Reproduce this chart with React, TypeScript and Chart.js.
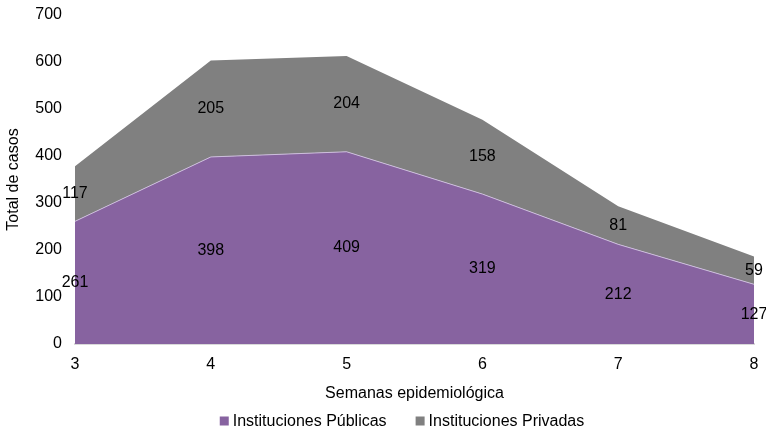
import React, { useEffect, useRef } from "react";
import { Chart, registerables } from "chart.js";

Chart.register(...registerables);

const semanas = ["3", "4", "5", "6", "7", "8"];
const publicas = [261, 398, 409, 319, 212, 127];
const privadas = [117, 205, 204, 158, 81, 59];
const yTicks = [0, 100, 200, 300, 400, 500, 600, 700];

const FONT = "'Liberation Sans', Arial, sans-serif";
const FS = 16;

const labelPlugin = {
  id: "areaLabels",
  afterDatasetsDraw(chart: any) {
    const { ctx, scales } = chart;
    const y = scales.y;
    ctx.save();
    ctx.font = `${FS}px ${FONT}`;
    ctx.fillStyle = "#000000";
    ctx.textAlign = "center";
    ctx.textBaseline = "middle";
    chart.data.datasets.forEach((ds: any, di: number) => {
      const meta = chart.getDatasetMeta(di);
      meta.data.forEach((pt: any, i: number) => {
        let base = 0;
        for (let k = 0; k < di; k++) base += chart.data.datasets[k].data[i];
        const v = ds.data[i];
        const py = y.getPixelForValue(base + v / 2);
        ctx.fillText(String(v), pt.x, py);
      });
    });
    ctx.restore();
  },
};

const legendPlugin = {
  id: "bottomLegend",
  afterDraw(chart: any) {
    const { ctx } = chart;
    ctx.save();
    ctx.font = `${FS}px ${FONT}`;
    ctx.textBaseline = "middle";
    ctx.textAlign = "left";
    const box = 9;
    const gap = 4;
    const spacing = 29;
    const items = chart.data.datasets.map((ds: any) => ({
      label: ds.label,
      color: ds.backgroundColor,
      w: box + gap + ctx.measureText(ds.label).width,
    }));
    const total = items.reduce((s: number, it: any) => s + it.w, 0) + spacing * (items.length - 1);
    let x = 402 - total / 2;
    const cy = chart.height - 12;
    items.forEach((it: any) => {
      ctx.fillStyle = it.color;
      ctx.fillRect(x, cy - box / 2, box, box);
      ctx.fillStyle = "#000";
      ctx.fillText(it.label, x + box + gap, cy + 1);
      x += it.w + spacing;
    });
    ctx.restore();
  },
};

export default function App() {
  const ref = useRef<HTMLCanvasElement>(null);
  useEffect(() => {
    document.body.style.margin = "0";
    const chart = new Chart(ref.current!, {
      type: "line",
      data: {
        labels: semanas,
        datasets: [
          {
            label: "Instituciones Públicas",
            data: publicas,
            backgroundColor: "#8763A0",
            borderColor: "rgba(210,195,225,0.9)",
            borderWidth: 1,
            fill: "origin",
            pointRadius: 0,
            tension: 0,
          },
          {
            label: "Instituciones Privadas",
            data: privadas,
            backgroundColor: "#808080",
            borderColor: "#808080",
            borderWidth: 0,
            fill: "-1",
            pointRadius: 0,
            tension: 0,
          },
        ],
      },
      options: {
        animation: false,
        responsive: false,
        maintainAspectRatio: false,
        layout: { padding: { top: 15, right: 12, left: 0, bottom: 27 } },
        scales: {
          x: {
            offset: false,
            grid: { display: false, drawTicks: false },
            border: { display: true, color: "#d9d9d9", width: 2 },
            ticks: { color: "#000", font: { family: FONT, size: FS }, padding: 11, maxRotation: 0 },
            title: {
              display: true,
              text: "Semanas epidemiológica",
              color: "#000",
              font: { family: FONT, size: FS },
              padding: { top: 10, bottom: 3 },
            },
            afterFit(scale: any) {
              scale.height = 62;
              scale.paddingLeft = 0;
              scale.paddingRight = 0;
            },
          },
          y: {
            stacked: true,
            min: 0,
            max: 700,
            afterBuildTicks(scale: any) {
              scale.ticks = yTicks.map((v) => ({ value: v }));
            },
            grid: { display: false, drawTicks: false },
            border: { display: false },
            ticks: { color: "#000", font: { family: FONT, size: FS }, padding: 13 },
            title: {
              display: true,
              text: "Total de casos",
              color: "#000",
              font: { family: FONT, size: FS },
              padding: { top: 4, bottom: 0 },
            },
            afterFit(scale: any) {
              scale.width = 75;
              scale.paddingTop = 0;
              scale.paddingBottom = 0;
            },
          },
        },
        plugins: {
          legend: { display: false },
          tooltip: { enabled: false },
        },
      },
      plugins: [labelPlugin, legendPlugin],
    });
    return () => chart.destroy();
  }, []);
  return (
    <div style={{ position: "absolute", left: 0, top: 0, width: 766, height: 433, background: "#fff" }}>
      <canvas ref={ref} width={766} height={433} style={{ width: 766, height: 433 }} />
    </div>
  );
}
